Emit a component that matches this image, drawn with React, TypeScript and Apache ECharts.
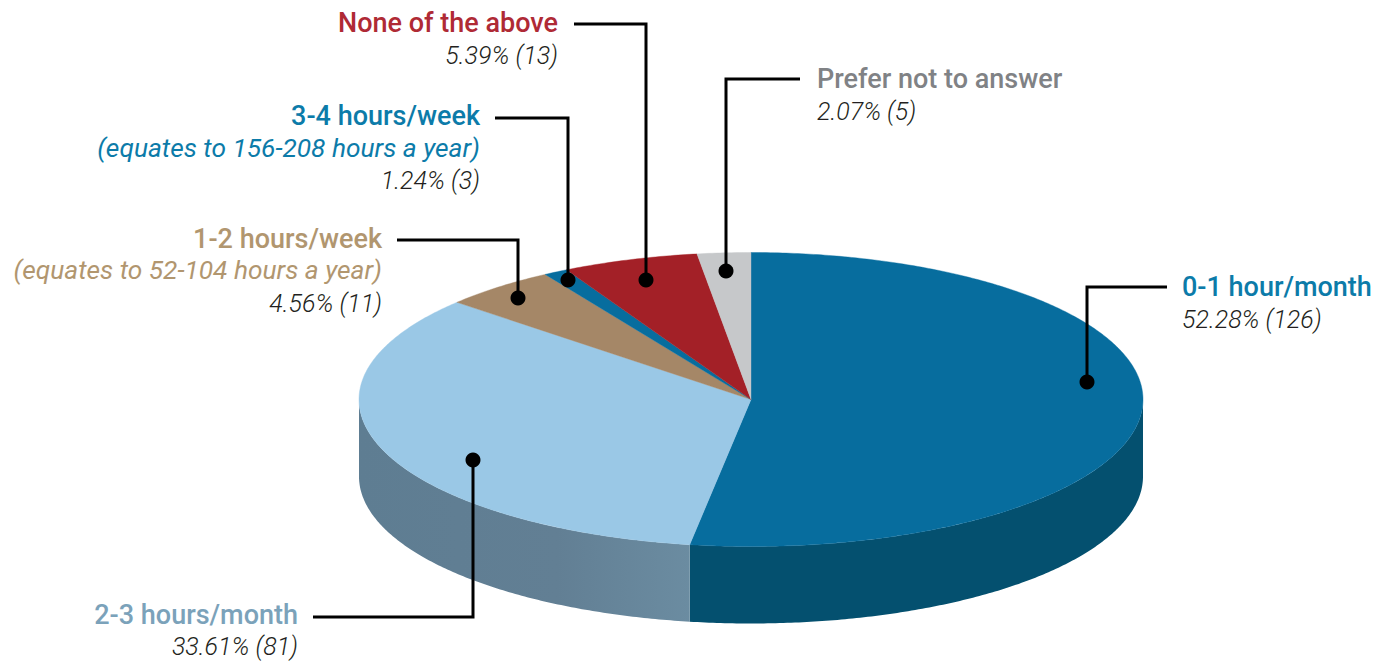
import React, { useEffect, useRef } from "react";
import * as echarts from "echarts";

// Data, clockwise from 12 o'clock
const categories = ["0-1 hour/month", "2-3 hours/month", "1-2 hours/week", "3-4 hours/week", "None of the above", "Prefer not to answer"];
const percents = [52.28, 33.61, 4.56, 1.24, 5.39, 2.07];
const counts = [126, 81, 11, 3, 13, 5];
const notes = ["", "", "(equates to 52-104 hours a year)", "(equates to 156-208 hours a year)", "", ""];
// Share of the full turn each slice occupies in the picture
const drawnShares = [52.5, 34.0, 4.7, 1.0, 5.6, 2.2];

// Styling
const topColors = ["#076D9E", "#9AC8E6", "#A58767", "#076D9E", "#A32027", "#C6C8CA"];
const sideStops = [
  [[0, "#04506F"], [1, "#04506F"]],
  [[0, "#5E7D92"], [0.6, "#627F94"], [1, "#6B8CA1"]],
  [],
  [],
  [],
  [],
];
const labelColors = ["#0C7BA9", "#7BA2BA", "#B1966F", "#0C7BA9", "#AF2A35", "#808285"];

// Pie geometry
const CX = 751;
const CY = 399.5;
const RX = 392;
const RY = 147;
const DEPTH = 77;

// Callout layout: dot, elbow, line end, text anchor, line centres
const callouts = [
  { dot: [1087, 382], elbow: [1087, 287], end: [1167, 287], x: 1182, align: "left", ys: [287, 319] },
  { dot: [473, 460], elbow: [473, 617], end: [313, 617], x: 298, align: "right", ys: [615, 646] },
  { dot: [518, 298], elbow: [518, 240], end: [397, 240], x: 382, align: "right", ys: [239, 270, 303] },
  { dot: [568, 280], elbow: [568, 118], end: [495, 118], x: 480, align: "right", ys: [116, 148, 180] },
  { dot: [646, 280], elbow: [646, 24], end: [574, 24], x: 558, align: "right", ys: [23, 55] },
  { dot: [726, 271], elbow: [726, 79], end: [800, 79], x: 817, align: "left", ys: [79, 111] },
];

const totalShare = drawnShares.reduce((a, b) => a + b, 0);
const TITLE_FONT = { fontFamily: "Roboto", fontWeight: 500, fontSize: 27 };
const EQUATES_FONT = { fontFamily: "Roboto", fontWeight: 400, fontStyle: "italic", fontSize: 26.3 };
const VALUE_FONT = { fontFamily: "Roboto", fontWeight: 300, fontStyle: "italic", fontSize: 25 };

function pt(theta: number, dy = 0): number[] {
  return [CX + RX * Math.sin(theta), CY - RY * Math.cos(theta) + dy];
}

function arcPoints(a0: number, a1: number, dy = 0): number[][] {
  const n = Math.max(2, Math.ceil(Math.abs(a1 - a0) / 0.01));
  const out: number[][] = [];
  for (let i = 0; i <= n; i++) out.push(pt(a0 + ((a1 - a0) * i) / n, dy));
  return out;
}

function renderSlice(params: any, api: any) {
  const i = params.dataIndex;
  let before = 0;
  for (let k = 0; k < i; k++) before += drawnShares[k];
  const a0 = (before / totalShare) * Math.PI * 2;
  const a1 = a0 + (api.value(0) / totalShare) * Math.PI * 2;
  const children: any[] = [];
  // Visible wall: the part of the rim facing the viewer (90° to 270° clockwise from the top)
  const s0 = Math.max(a0, Math.PI / 2);
  const s1 = Math.min(a1, (Math.PI * 3) / 2);
  if (s1 > s0) {
    const upper = arcPoints(s0, s1);
    const lower = arcPoints(s1, s0, DEPTH);
    const stops = sideStops[i].map((s: any) => ({ offset: s[0], color: s[1] }));
    children.push({
      type: "polygon",
      z2: 1,
      shape: { points: upper.concat(lower) },
      style: {
        fill: new echarts.graphic.LinearGradient(0, 0, 1, 0, stops),
        stroke: "none",
      },
    });
  }
  children.push({
    type: "polygon",
    z2: 2,
    shape: { points: [[CX, CY] as number[]].concat(arcPoints(a0, a1)) },
    style: { fill: topColors[i], stroke: topColors[i], lineWidth: 0.4 },
  });
  return { type: "group", children };
}

function calloutGraphics(): any[] {
  const out: any[] = [];
  categories.forEach((name, i) => {
    const c = callouts[i];
    out.push({
      type: "polyline",
      z: 10,
      shape: { points: [c.dot, c.elbow, c.end] },
      style: { stroke: "#000", lineWidth: 3, fill: "none" },
    });
    out.push({
      type: "circle",
      z: 11,
      shape: { cx: c.dot[0], cy: c.dot[1], r: 7.5 },
      style: { fill: "#000" },
    });
    const lines: { text: string; font: any; color: string }[] = [
      { text: name, font: TITLE_FONT, color: labelColors[i] },
    ];
    if (notes[i]) lines.push({ text: notes[i], font: EQUATES_FONT, color: labelColors[i] });
    lines.push({ text: `${percents[i].toFixed(2)}% (${counts[i]})`, font: VALUE_FONT, color: "#231F20" });
    lines.forEach((l, k) => {
      out.push({
        type: "text",
        z: 12,
        x: c.x,
        y: c.ys[k],
        style: {
          text: l.text,
          fill: l.color,
          textAlign: c.align,
          textVerticalAlign: "middle",
          ...l.font,
        },
      });
    });
  });
  return out;
}

export default function App() {
  const ref = useRef<HTMLDivElement>(null);
  useEffect(() => {
    const chart = echarts.init(ref.current!, undefined, { renderer: "svg" });
    chart.setOption({
      animation: false,
      backgroundColor: "#ffffff",
      series: [
        {
          type: "custom",
          coordinateSystem: "none",
          silent: true,
          renderItem: renderSlice,
          data: drawnShares.map((p) => [p]),
        },
      ],
      graphic: { elements: calloutGraphics() },
    });
    return () => chart.dispose();
  }, []);
  return <div ref={ref} style={{ position: "absolute", left: 0, top: 0, width: 1378, height: 663 }} />;
}
